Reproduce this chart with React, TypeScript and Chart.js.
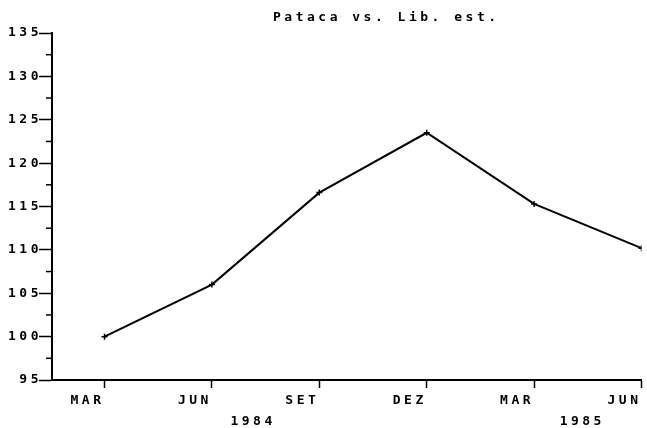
import React, { useEffect, useRef } from "react";
import { Chart, registerables } from "chart.js";

Chart.register(...registerables);

const TITLE = "Pataca vs. Lib. est.";
const categories = ["MAR", "JUN", "SET", "DEZ", "MAR", "JUN"];
const values = [100.0, 106.0, 116.6, 123.5, 115.3, 110.2];
const yearLabels = ["1984", "1985"];
const yearAnchors = [1.365, 4.43];
const yMin = 95;
const yMax = 135;
const yStep = 5;

const SPACING = "3.5px";
const FONT = { family: '"DejaVu Sans Mono", monospace', size: 13, weight: "bold" as const };

const decorPlugin = {
  id: "decor",
  beforeDraw(chart: any) {
    chart.ctx.letterSpacing = SPACING;
  },
  afterDraw(chart: any) {
    const ctx = chart.ctx as CanvasRenderingContext2D;
    const xs = chart.scales.x;
    const ys = chart.scales.y;
    ctx.save();
    (ctx as any).letterSpacing = SPACING;
    ctx.font = 'bold 13px "DejaVu Sans Mono", monospace';
    ctx.fillStyle = "#000";
    ctx.textBaseline = "middle";
    ctx.textAlign = "left";
    ctx.fillText(TITLE, 273, 18);
    ctx.textAlign = "center";
    yearLabels.forEach((t, i) => {
      ctx.fillText(t, xs.getPixelForValue(yearAnchors[i]) + 2, 422);
    });
    // minor ticks on y axis
    ctx.strokeStyle = "#000";
    ctx.lineWidth = 1.5;
    const left = chart.chartArea.left;
    for (let v = yMin + yStep / 2; v < yMax; v += yStep) {
      const py = ys.getPixelForValue(v);
      ctx.beginPath();
      ctx.moveTo(left - 6, py);
      ctx.lineTo(left, py);
      ctx.stroke();
    }
    ctx.restore();
    (ctx as any).letterSpacing = "0px";
  },
};

export default function App() {
  const ref = useRef<HTMLCanvasElement | null>(null);
  useEffect(() => {
    if (!ref.current) return;
    const chart = new Chart(ref.current, {
      type: "line",
      data: {
        datasets: [
          {
            data: values.map((v, i) => ({ x: i, y: v })),
            borderColor: "#000",
            backgroundColor: "#000",
            borderWidth: 2,
            pointStyle: "cross",
            pointRadius: 3,
            pointBorderWidth: 1.5,
            pointBorderColor: "#000",
            tension: 0,
          },
        ],
      },
      options: {
        animation: false,
        responsive: true,
        maintainAspectRatio: false,
        layout: { padding: { top: 33, right: 0, left: 0, bottom: 0 } },
        plugins: { legend: { display: false }, title: { display: false }, tooltip: { enabled: false } },
        scales: {
          x: {
            type: "linear",
            min: -0.489,
            max: 5,
            afterBuildTicks: (scale: any) => {
              scale.ticks = categories.map((_, i) => ({ value: i }));
            },
            afterFit: (scale: any) => {
              scale.height = 48;
            },
            ticks: {
              callback: (v: any) => categories[Math.round(Number(v))] ?? "",
              font: FONT,
              color: "#000",
              align: "end",
              padding: 5,
              maxRotation: 0,
              autoSkip: false,
            },
            grid: { drawOnChartArea: false, tickLength: 8, tickWidth: 1.5, tickColor: "#000" },
            border: { color: "#000", width: 2 },
          },
          y: {
            min: yMin,
            max: yMax,
            afterFit: (scale: any) => {
              scale.width = 52;
            },
            ticks: { stepSize: yStep, font: FONT, color: "#000", padding: -3 },
            grid: { drawOnChartArea: false, tickLength: 13, tickWidth: 1.5, tickColor: "#000" },
            border: { color: "#000", width: 2 },
          },
        },
      },
      plugins: [decorPlugin],
    });
    return () => chart.destroy();
  }, []);
  return (
    <div style={{ position: "absolute", left: 0, top: 0, width: 647, height: 428, background: "#fff" }}>
      <canvas ref={ref} />
    </div>
  );
}
